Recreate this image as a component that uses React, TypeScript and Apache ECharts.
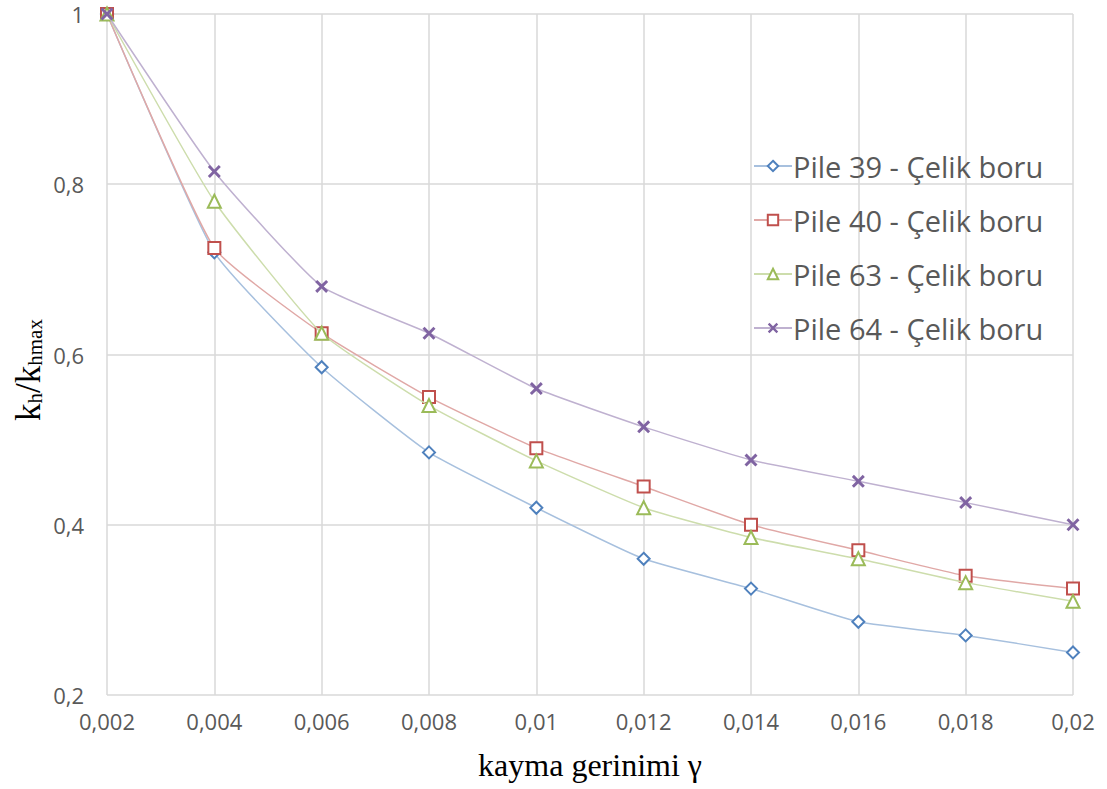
import React, { useEffect, useRef } from "react";
import * as echarts from "echarts";

const strains = [0.002, 0.004, 0.006, 0.008, 0.01, 0.012, 0.014, 0.016, 0.018, 0.02];
const pile39 = [1, 0.72, 0.585, 0.485, 0.42, 0.36, 0.325, 0.286, 0.27, 0.25];
const pile40 = [1, 0.725, 0.625, 0.55, 0.49, 0.445, 0.4, 0.37, 0.34, 0.325];
const pile63 = [1, 0.78, 0.625, 0.54, 0.475, 0.42, 0.385, 0.36, 0.332, 0.31];
const pile64 = [1, 0.815, 0.68, 0.625, 0.56, 0.515, 0.476, 0.451, 0.426, 0.4];
const seriesNames = [
  "Pile 39 - Çelik boru",
  "Pile 40 - Çelik boru",
  "Pile 63 - Çelik boru",
  "Pile 64 - Çelik boru",
];

const colors = ["#4F81BD", "#C0504D", "#9BBB59", "#8064A2"];
const lineColors = ["#A7C0DE", "#E0A8A6", "#CDDDAC", "#BFB1D0"];
const xPath =
  "path://M1.6,0 L5,3.4 L8.4,0 L10,1.6 L6.6,5 L10,8.4 L8.4,10 L5,6.6 L1.6,10 L0,8.4 L3.4,5 L0,1.6 Z";

const fmt = (v: number) => {
  const r = parseFloat(v.toFixed(4));
  return String(r).replace(".", ",");
};

export default function App() {
  const ref = useRef<HTMLDivElement>(null);
  useEffect(() => {
    if (!ref.current) return;
    const chart = echarts.init(ref.current, null, { renderer: "svg" });
    const data = [pile39, pile40, pile63, pile64];
    const symbols = ["emptyDiamond", "emptyRect", "emptyTriangle", xPath];
    const sizes = [12, 12, 13, 13];
    chart.setOption({
      animation: false,
      backgroundColor: "#ffffff",
      grid: { left: 107, right: 34, top: 14, bottom: 94, containLabel: false },
      legend: {
        orient: "vertical",
        left: 748,
        top: 142,
        itemWidth: 38,
        itemHeight: 13,
        itemGap: 16,
        textStyle: {
          fontFamily: "Open Sans",
          fontSize: 29,
          color: "#595959",
          lineHeight: 38,
          padding: [0, 0, 0, -4],
        },
        data: seriesNames,
      },
      graphic: [
        {
          type: "text",
          x: 28,
          y: 370,
          rotation: Math.PI / 2,
          style: {
            text: "{a|k}{s|h}{a|/k}{s|hmax}",
            align: "center",
            verticalAlign: "middle",
            rich: {
              a: {
                fontFamily: "Liberation Serif",
                fontSize: 35,
                fill: "#000000",
                verticalAlign: "bottom",
              },
              s: {
                fontFamily: "Liberation Serif",
                fontSize: 21,
                fill: "#000000",
                verticalAlign: "bottom",
              },
            },
          },
        },
      ],
      xAxis: {
        type: "value",
        min: 0.002,
        max: 0.02,
        interval: 0.002,
        name: "kayma gerinimi γ",
        nameLocation: "middle",
        nameGap: 54,
        nameTextStyle: {
          fontFamily: "Liberation Serif",
          fontSize: 32,
          color: "#000000",
        },
        axisLine: { show: false },
        axisTick: { show: false },
        axisLabel: {
          formatter: fmt,
          margin: 15,
          fontFamily: "Open Sans",
          fontSize: 22,
          color: "#595959",
        },
        splitLine: { show: true, lineStyle: { color: "#D9D9D9", width: 1.5 } },
      },
      yAxis: {
        type: "value",
        min: 0.2,
        max: 1,
        interval: 0.2,
        axisLine: { show: false },
        axisTick: { show: false },
        axisLabel: {
          formatter: fmt,
          margin: 23,
          fontFamily: "Open Sans",
          fontSize: 22,
          color: "#595959",
        },
        splitLine: { show: true, lineStyle: { color: "#D9D9D9", width: 1.5 } },
      },
      series: seriesNames.map((name, i) => ({
        name,
        type: "line",
        smooth: 0.15,
        data: strains.map((x, j) => [x, data[i][j]]),
        symbol: symbols[i],
        symbolSize: sizes[i],
        showAllSymbol: true,
        lineStyle: { color: lineColors[i], width: 1.5 },
        itemStyle: {
          color: colors[i],
          borderColor: colors[i],
          borderWidth: i === 3 ? 0 : 2.5,
        },
        z: 2 + i,
      })),
    });
    return () => chart.dispose();
  }, []);
  return <div ref={ref} style={{ width: 1107, height: 789, position: "absolute", left: 0, top: 0 }} />;
}
